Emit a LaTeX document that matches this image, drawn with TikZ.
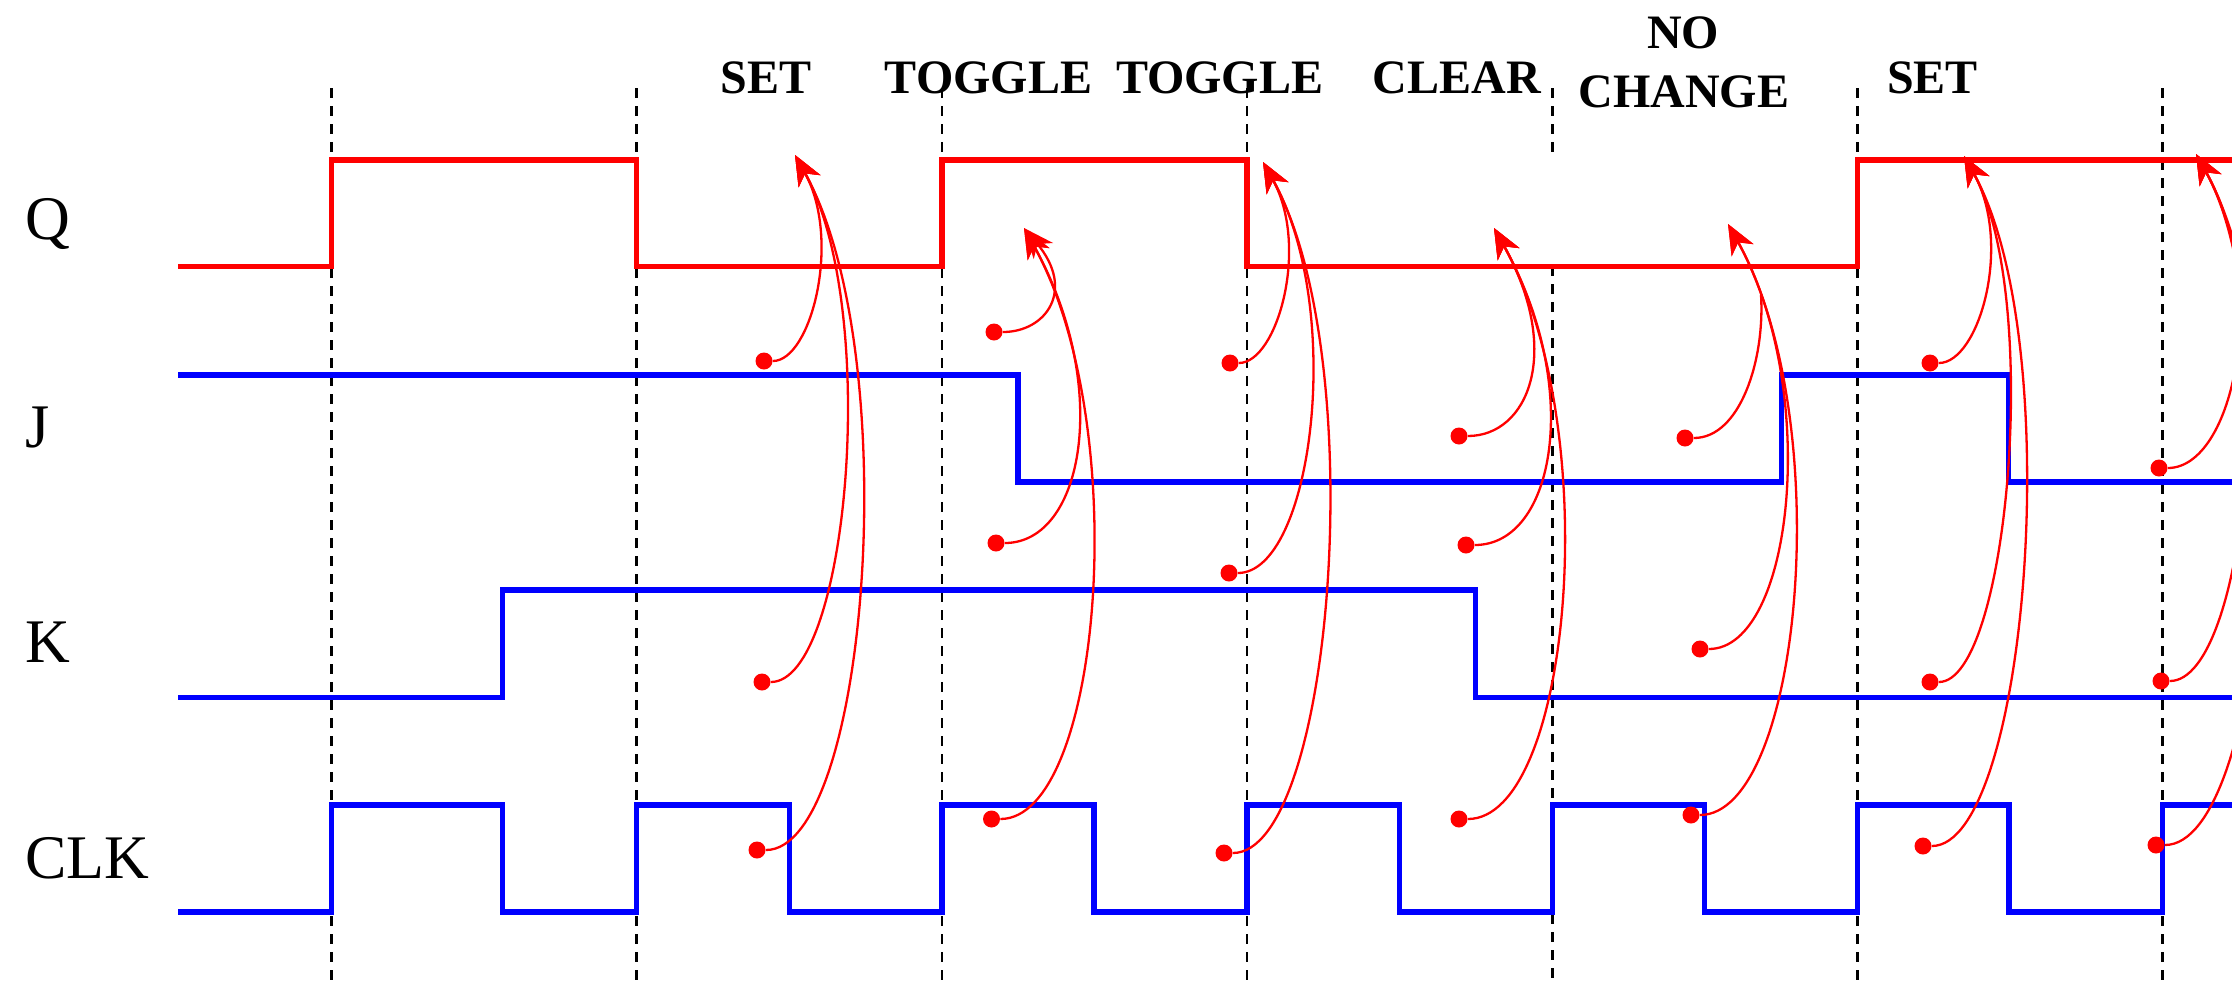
\documentclass[tikz,border=0pt]{standalone}
\usepackage{fontspec}
\setmainfont{Liberation Serif}
\usetikzlibrary{arrows.meta}
\begin{document}
\begin{tikzpicture}[x=0.5pt,y=-0.5pt,
  wave/.style={line width=2.7pt, line join=miter},
  gridline/.style={black, line width=1.3pt, dash pattern=on 5pt off 4pt},
  dot/.style={circle, fill=red, inner sep=0pt, minimum size=8.5pt},
  conn/.style={red, line width=1.15pt, -{Stealth[length=15pt,width=12.5pt,inset=4.5pt]}},
  connplain/.style={red, line width=1.15pt},
  sig/.style={font=\fontsize{31pt}{31pt}\selectfont, inner sep=0pt},
  ttl/.style={font=\fontsize{24pt}{24pt}\selectfont\bfseries, inner sep=0pt}]
\useasboundingbox (0,0) rectangle (2232,980);
\clip (0,0) rectangle (2232,980);

% dashed clock-edge lines
\foreach \x in {331.5,636.7,941.8,1247,1857.4,2162.5}
  \draw[gridline] (\x,88) -- (\x,985);
\draw[gridline] (1552.2,88) -- (1552.2,155);
\draw[gridline] (1552.2,266) -- (1552.2,985);

% waveforms
\draw[wave, red] (178,266.5) -- (331.5,266.5) -- (331.5,160) -- (636.7,160) -- (636.7,266.5)
  -- (941.8,266.5) -- (941.8,160) -- (1247,160) -- (1247,266.5) -- (1857.4,266.5)
  -- (1857.4,160) -- (2240,160);
\draw[wave, blue] (178,375) -- (1018,375) -- (1018,482) -- (1781.6,482) -- (1781.6,375)
  -- (2008.7,375) -- (2008.7,482) -- (2240,482);
\draw[wave, blue] (178,697.5) -- (502.5,697.5) -- (502.5,590) -- (1475.5,590)
  -- (1475.5,697.5) -- (2240,697.5);
\draw[wave, blue] (178,912) -- (331.5,912) -- (331.5,805) -- (502.5,805) -- (502.5,912)
  -- (636.7,912) -- (636.7,805) -- (789.7,805) -- (789.7,912)
  -- (941.8,912) -- (941.8,805) -- (1094,805) -- (1094,912)
  -- (1247,912) -- (1247,805) -- (1399.3,805) -- (1399.3,912)
  -- (1552.2,912) -- (1552.2,805) -- (1704.3,805) -- (1704.3,912)
  -- (1857.4,912) -- (1857.4,805) -- (2009,805) -- (2009,912)
  -- (2162.5,912) -- (2162.5,805) -- (2240,805);

% signal labels
\node[sig, anchor=base west] (lq) at (25,239) {Q};
\node[sig, anchor=base west] (lj) at (25,447) {J};
\node[sig, anchor=base west] (lk) at (25,662) {K};
\node[sig, anchor=base west] (lclk) at (25,878) {CLK};

% state labels
\node[ttl, anchor=base] (s1) at (766,93) {SET};
\node[ttl, anchor=base] (tg1) at (988.5,93) {TOGGLE};
\node[ttl, anchor=base] (tg2) at (1219.7,93) {TOGGLE};
\node[ttl, anchor=base] (cl) at (1456.7,93) {CLEAR};
\node[ttl, anchor=base] (nc1) at (1683.3,48) {NO};
\node[ttl, anchor=base] (nc2) at (1684,107) {CHANGE};
\node[ttl, anchor=base] (s2) at (1932.4,93) {SET};

% arrow targets
\coordinate (t1) at (795,155);
\coordinate (t2) at (1024,228);
\coordinate (t3) at (1263,162);
\coordinate (t4) at (1494,228);
\coordinate (t5) at (1728,224);
\coordinate (t5j) at (1761,295);
\coordinate (t6) at (1964,156);
\coordinate (t7) at (2196,154);

% dots
\node[dot] (j1) at (764,361) {};
\node[dot] (k1) at (762,682) {};
\node[dot] (c1) at (757,850) {};
\node[dot] (j2) at (994,332) {};
\node[dot] (k2) at (996,543) {};
\node[dot] (c2) at (991.5,819) {};
\node[dot] (j3) at (1230,363) {};
\node[dot] (k3) at (1229,573) {};
\node[dot] (c3) at (1224,853) {};
\node[dot] (j4) at (1459,436) {};
\node[dot] (k4) at (1466,545) {};
\node[dot] (c4) at (1459,819) {};
\node[dot] (j5) at (1685,438) {};
\node[dot] (k5) at (1700,649) {};
\node[dot] (c5) at (1691,815) {};
\node[dot] (j6) at (1930,363) {};
\node[dot] (k6) at (1930,682) {};
\node[dot] (c6) at (1923,846) {};
\node[dot] (j7) at (2159,468) {};
\node[dot] (k7) at (2161,681) {};
\node[dot] (c7) at (2156,845) {};

% connectors
\draw[conn] (j1) .. controls +(47,0) and +(47,85) .. (t1);
\draw[conn] (k1) .. controls +(86,0) and +(86,155) .. (t1);
\draw[conn] (c1) .. controls +(111,0) and +(111,200) .. (t1);
\draw[conn] (j2) .. controls +(52,0) and +(52,62) .. (t2);
\draw[conn] (k2) .. controls +(88,0) and +(88,158) .. (t2);
\draw[conn] (c2) .. controls +(110,0) and +(110,198) .. (t2);
\draw[conn] (j3) .. controls +(47,0) and +(47,85) .. (t3);
\draw[conn] (k3) .. controls +(83,0) and +(83,149) .. (t3);
\draw[conn] (c3) .. controls +(109,0) and +(109,196) .. (t3);
\draw[conn] (j4) .. controls +(69,0) and +(69,124) .. (t4);
\draw[conn] (k4) .. controls +(89,0) and +(89,160) .. (t4);
\draw[conn] (c4) .. controls +(112,0) and +(112,201) .. (t4);
\draw[connplain] (j5) .. controls +(55,0) and +(4,65) .. (t5j);
\draw[conn] (k5) .. controls +(93,0) and +(93,167) .. (t5);
\draw[conn] (c5) .. controls +(110,0) and +(110,198) .. (t5);
\draw[conn] (j6) .. controls +(49,0) and +(49,88) .. (t6);
\draw[conn] (k6) .. controls +(78,0) and +(78,140) .. (t6);
\draw[conn] (c6) .. controls +(104,0) and +(104,187) .. (t6);
\draw[conn] (j7) .. controls +(75,0) and +(75,135) .. (t7);
\draw[conn] (k7) .. controls +(86,0) and +(86,155) .. (t7);
\draw[conn] (c7) .. controls +(110,0) and +(110,198) .. (t7);
\end{tikzpicture}
\end{document}
